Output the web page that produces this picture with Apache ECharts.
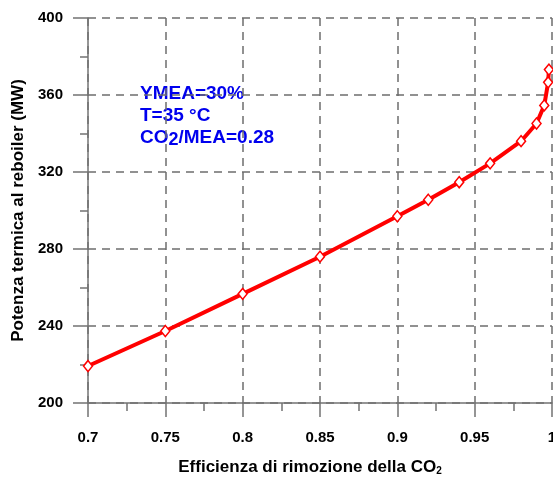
<!DOCTYPE html>
<html>
<head>
<meta charset="utf-8">
<script src="https://cdn.jsdelivr.net/npm/echarts@6/dist/echarts.min.js"></script>
<style>
html,body{margin:0;padding:0;background:#fff;}
#c{width:553px;height:478px;}
</style>
</head>
<body>
<div id="c"></div>
<script>
const efficiency = [0.7, 0.75, 0.8, 0.85, 0.9, 0.92, 0.94, 0.96, 0.98, 0.99, 0.995, 0.9975, 0.998];
const power = [219.2, 237.4, 256.7, 276.0, 297.0, 305.6, 314.7, 324.5, 336.0, 345.2, 354.6, 366.6, 373.2];
const xTicks = [0.7, 0.75, 0.8, 0.85, 0.9, 0.95, 1];
const yTicks = [200, 240, 280, 320, 360, 400];
const annotations = ['YMEA=30%', 'T=35 °C', 'CO{sub|2}/MEA=0.28'];

const chart = echarts.init(document.getElementById('c'), null, {renderer: 'canvas'});
const font = 'Liberation Sans, Arial, sans-serif';
const axisGray = '#737373';
const gridStyle = {show: true, lineStyle: {color: '#6e6e6e', width: 1.5, type: [8, 6]}};

chart.setOption({
  animation: false,
  grid: {left: 88, right: 1, top: 18, bottom: 75, containLabel: false, outerBoundsMode: 'none'},
  xAxis: {
    type: 'value',
    min: xTicks[0], max: xTicks[xTicks.length - 1], interval: 0.05,
    name: 'Efficienza di rimozione della CO{sub|2}',
    nameLocation: 'middle', nameGap: 55,
    nameTextStyle: {
      fontFamily: font, fontWeight: 'bold', fontSize: 17, color: '#000',
      padding: [0, 20, 0, 0],
      rich: {sub: {fontFamily: font, fontWeight: 'bold', fontSize: 10, color: '#000', padding: [8, 0, 0, 0]}}
    },
    axisLine: {show: true, lineStyle: {color: axisGray, width: 1.5}},
    axisTick: {show: true, length: 14, lineStyle: {color: axisGray, width: 1.5}},
    minorTick: {show: true, splitNumber: 2, length: 8, lineStyle: {color: axisGray, width: 1.5}},
    axisLabel: {
      margin: 27, fontFamily: font, fontWeight: 'bold', fontSize: 15, color: '#000',
      formatter: v => String(+v.toFixed(2)), showMaxLabel: true, showMinLabel: true
    },
    splitLine: gridStyle
  },
  yAxis: {
    type: 'value',
    min: yTicks[0], max: yTicks[yTicks.length - 1], interval: 40,
    name: 'Potenza termica al reboiler (MW)',
    nameLocation: 'middle', nameGap: 59, nameRotate: 90,
    nameTextStyle: {fontFamily: font, fontWeight: 'bold', fontSize: 17, color: '#000'},
    axisLine: {show: true, lineStyle: {color: axisGray, width: 1.5}},
    axisTick: {show: true, length: 15, lineStyle: {color: axisGray, width: 1.5}},
    minorTick: {show: true, splitNumber: 2, length: 8, lineStyle: {color: axisGray, width: 1.5}},
    axisLabel: {margin: 25, fontFamily: font, fontWeight: 'bold', fontSize: 15, color: '#000'},
    splitLine: gridStyle
  },
  series: [{
    type: 'line',
    data: efficiency.map((x, i) => [x, power[i]]),
    smooth: false,
    symbol: 'diamond',
    symbolSize: [9, 11],
    showAllSymbol: true,
    clip: false,
    lineStyle: {color: '#ff0000', width: 4},
    itemStyle: {color: '#ffffff', borderColor: '#ff0000', borderWidth: 1.5}
  }],
  graphic: annotations.map((t, i) => ({
    type: 'text',
    left: 140,
    top: 84 + i * 22,
    style: {
      text: t,
      fill: '#0000ee',
      font: 'bold 19px ' + font,
      rich: {sub: {fill: '#0000ee', font: 'bold 18px ' + font, padding: [6, 0, 0, 0]}}
    }
  }))
});
</script>
</body>
</html>
